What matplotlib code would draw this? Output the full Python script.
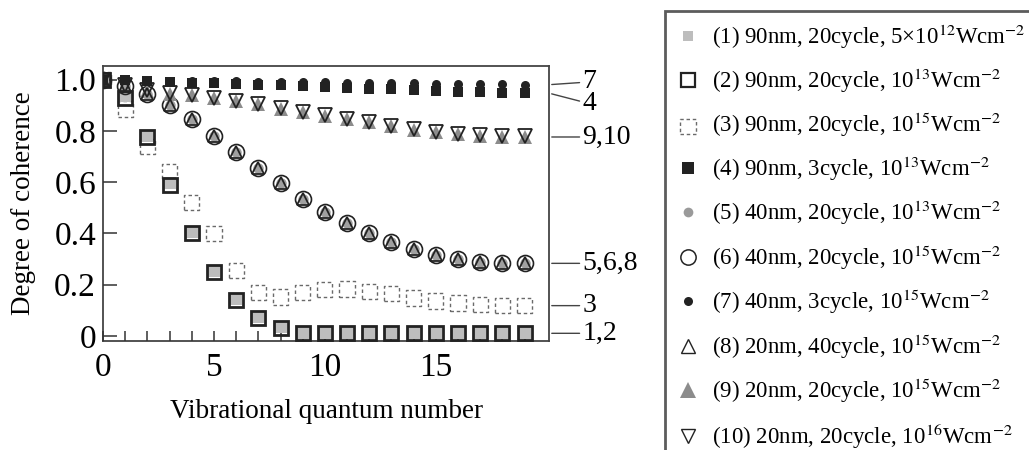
import matplotlib
matplotlib.use("Agg")
import matplotlib.pyplot as plt
from matplotlib.lines import Line2D
from matplotlib.transforms import blended_transform_factory

plt.rcParams['font.family'] = ['Liberation Serif', 'DejaVu Serif']
plt.rcParams['mathtext.fontset'] = 'stix'

# ---------------- data ----------------
n = list(range(20))
s1 = [1.0, 0.935, 0.78, 0.595, 0.405, 0.255, 0.145, 0.075, 0.035, 0.012, 0.012, 0.012, 0.012, 0.012,
      0.012, 0.012, 0.012, 0.012, 0.012, 0.012]
s2 = [1.0, 0.93, 0.775, 0.59, 0.40, 0.25, 0.14, 0.07, 0.03, 0.01, 0.01, 0.01, 0.01, 0.01,
      0.01, 0.01, 0.01, 0.01, 0.01, 0.01]
s3 = [1.0, 0.885, 0.74, 0.64, 0.52, 0.40, 0.255, 0.168, 0.152, 0.168, 0.18, 0.183, 0.172, 0.164,
      0.148, 0.136, 0.128, 0.121, 0.118, 0.118]
s4 = [1.0, 0.997, 0.994, 0.991, 0.988, 0.985, 0.983, 0.98, 0.977, 0.974, 0.971, 0.968, 0.965, 0.962,
      0.959, 0.956, 0.953, 0.951, 0.949, 0.947]
s5 = [1.0, 0.975, 0.945, 0.90, 0.846, 0.78, 0.717, 0.655, 0.595, 0.535, 0.483, 0.44, 0.40, 0.366,
      0.34, 0.316, 0.30, 0.289, 0.285, 0.283]
s6 = s5
s7 = [1.0, 0.998, 0.997, 0.996, 0.995, 0.994, 0.993, 0.992, 0.991, 0.990, 0.989, 0.988, 0.987, 0.986,
      0.985, 0.984, 0.983, 0.982, 0.981, 0.980]
s8 = s5
s9 = [1.0, 0.975, 0.955, 0.944, 0.938, 0.928, 0.916, 0.904, 0.887, 0.873, 0.858, 0.846, 0.834, 0.817,
      0.805, 0.795, 0.786, 0.780, 0.777, 0.776]
s10 = [1.0, 0.98, 0.96, 0.946, 0.94, 0.93, 0.918, 0.906, 0.889, 0.875, 0.86, 0.848, 0.836, 0.819,
       0.807, 0.797, 0.788, 0.782, 0.779, 0.778]

legend_labels = [
    r"(1) 90nm, 20cycle, 5×10$^{12}$Wcm$^{-2}$",
    r"(2) 90nm, 20cycle, 10$^{13}$Wcm$^{-2}$",
    r"(3) 90nm, 20cycle, 10$^{15}$Wcm$^{-2}$",
    r"(4) 90nm, 3cycle, 10$^{13}$Wcm$^{-2}$",
    r"(5) 40nm, 20cycle, 10$^{13}$Wcm$^{-2}$",
    r"(6) 40nm, 20cycle, 10$^{15}$Wcm$^{-2}$",
    r"(7) 40nm, 3cycle, 10$^{15}$Wcm$^{-2}$",
    r"(8) 20nm, 40cycle, 10$^{15}$Wcm$^{-2}$",
    r"(9) 20nm, 20cycle, 10$^{15}$Wcm$^{-2}$",
    r"(10) 20nm, 20cycle, 10$^{16}$Wcm$^{-2}$",
]
right_labels = ["7", "4", "9,10", "5,6,8", "3", "1,2"]
right_series = [s7, s4, s9, s5, s3, s2]

xticks = [0, 5, 10, 15]
yticks = [0, 0.2, 0.4, 0.6, 0.8, 1.0]
ytick_labels = ["0", "0.2", "0.4", "0.6", "0.8", "1.0"]

# ---------------- figure ----------------
fig = plt.figure(figsize=(10.29, 4.5), dpi=100)
ax = fig.add_axes([103/1029, 1-341/450, (549-103)/1029, (341-66)/450])

dark = '#222222'
h1, = ax.plot(n, s1, 's', ms=8, mfc='#bdbdbd', mec='#bdbdbd', mew=0, zorder=3)
h2, = ax.plot(n, s2, 's', ms=9.8, mfc='none', mec=dark, mew=2.0, zorder=3.1)
h3 = ax.scatter(n, s3, s=120, marker='s', facecolors='none', edgecolors='#6a6a6a',
                linewidths=1.0, linestyle=(0, (2.5, 2)), zorder=2.9)
h4, = ax.plot(n, s4, 's', ms=6.5, mfc=dark, mec=dark, mew=0, zorder=3.2)
h6, = ax.plot(n, s6, 'o', ms=11.5, mfc='none', mec=dark, mew=1.2, zorder=3.0)
h5, = ax.plot(n, s5, 'o', ms=7.5, mfc='#a0a0a0', mec='#a0a0a0', mew=0, zorder=3.05)
h7, = ax.plot(n, s7, 'o', ms=6.5, mfc=dark, mec=dark, mew=0, zorder=3.15)
h9, = ax.plot(n, s9, '^', ms=10, mfc='#8c8c8c', mec='#8c8c8c', mew=0, zorder=3.0)
h10, = ax.plot(n, s10, 'v', ms=9.5, mfc='none', mec=dark, mew=1.3, zorder=3.1)
h8, = ax.plot(n, s8, '^', ms=9, mfc='none', mec=dark, mew=1.3, zorder=3.1)

ax.set_xlim(0, 20.1)
ax.set_ylim(-0.02, 1.053)
ax.set_xticks(n)
ax.set_xticklabels([str(v) if v in xticks else "" for v in n])
ax.set_yticks(yticks)
ax.set_yticklabels(ytick_labels)
ax.tick_params(axis='x', direction='in', length=7, width=1.1, color='#333333',
               labelsize=24, pad=8)
ax.tick_params(axis='y', direction='in', length=10, width=1.1, color='#333333',
               labelsize=24, pad=5)
ax.set_axisbelow(False)
for sp in ax.spines.values():
    sp.set_color('#444444')
    sp.set_linewidth(1.3)

ax.set_ylabel("Degree of coherence", fontsize=19.5)
ax.yaxis.set_label_coords(-0.15, 0.5)
ax.set_xlabel("Vibrational quantum number", fontsize=19.5)
ax.xaxis.set_label_coords(0.5, -0.21)

# right-side leader labels
trans = blended_transform_factory(ax.transAxes, ax.transData)
dys = {"7": 2.0, "4": -7.5}
for lab, ser in zip(right_labels, right_series):
    ax.annotate(lab, xy=(1.0, ser[-1]), xycoords=trans,
                xytext=(24, dys.get(lab, 0)), textcoords='offset points',
                ha='left', va='center', fontsize=20,
                arrowprops=dict(arrowstyle='-', color='#444444', lw=1.0,
                                shrinkA=0, shrinkB=2),
                annotation_clip=False)

# legend
hs = [
    Line2D([], [], ls='none', marker='s', ms=7, mfc='#bdbdbd', mec='#bdbdbd', mew=0),
    Line2D([], [], ls='none', marker='s', ms=10, mfc='none', mec=dark, mew=1.6),
    h3,
    Line2D([], [], ls='none', marker='s', ms=8, mfc=dark, mec=dark, mew=0),
    Line2D([], [], ls='none', marker='o', ms=7, mfc='#9a9a9a', mec='#9a9a9a', mew=0),
    Line2D([], [], ls='none', marker='o', ms=11, mfc='none', mec=dark, mew=1.1),
    Line2D([], [], ls='none', marker='o', ms=6.5, mfc=dark, mec=dark, mew=0),
    Line2D([], [], ls='none', marker='^', ms=10, mfc='none', mec=dark, mew=1.0),
    Line2D([], [], ls='none', marker='^', ms=11, mfc='#8c8c8c', mec='#8c8c8c', mew=0),
    Line2D([], [], ls='none', marker='v', ms=10, mfc='none', mec=dark, mew=1.0),
]
leg = ax.legend(hs, legend_labels, loc='upper left',
                bbox_to_anchor=(665/1029, 1-11/450), bbox_transform=fig.transFigure,
                frameon=True, fancybox=False, fontsize=16.5, labelspacing=0.685,
                handlelength=1.0, handletextpad=0.55, borderpad=0.5, borderaxespad=0,
                scatterpoints=1, markerscale=1.0)
leg.get_frame().set_edgecolor('#333333')
leg.get_frame().set_linewidth(2.0)

fig.savefig("out.png", dpi=100)
